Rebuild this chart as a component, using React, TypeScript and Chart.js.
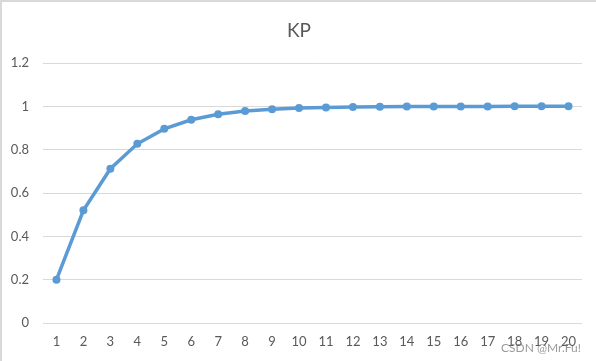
import React, { useEffect, useRef } from "react";
import { Chart, registerables } from "chart.js";

Chart.register(...registerables);

const categories = ["1","2","3","4","5","6","7","8","9","10","11","12","13","14","15","16","17","18","19","20"];
const kpValues = [0.2, 0.52, 0.712, 0.827, 0.896, 0.938, 0.963, 0.978, 0.987, 0.992, 0.995, 0.997, 0.998, 0.999, 0.9995, 0.9997, 0.9998, 0.9999, 0.9999, 1.0];
const titleText = "KP";
const watermarkText = "CSDN @Mr.Fu!";

const FONT = "Lato, 'Noto Sans', sans-serif";

const framePlugin = {
  id: "frame",
  beforeDraw(chart: any) {
    const { ctx, width, height } = chart;
    ctx.save();
    ctx.fillStyle = "#ffffff";
    ctx.fillRect(0, 0, width, height);
    ctx.fillStyle = "#d9d9d9";
    ctx.fillRect(0, 0, width, 2);
    ctx.fillRect(0, 0, 2, height);
    ctx.restore();
  },
  afterDraw(chart: any) {
    const { ctx } = chart;
    ctx.save();
    ctx.font = "19px " + FONT;
    ctx.fillStyle = "#595959";
    ctx.textAlign = "center";
    ctx.textBaseline = "middle";
    ctx.fillText(titleText, 299, 31);
    ctx.font = "12px " + FONT;
    ctx.fillStyle = "rgba(120,120,120,0.75)";
    ctx.textAlign = "right";
    ctx.fillText(watermarkText, 581, 348);
    ctx.restore();
  },
};

export default function App() {
  const ref = useRef<HTMLCanvasElement>(null);
  useEffect(() => {
    document.body.style.margin = "0";
    const chart = new Chart(ref.current!, {
      type: "line",
      data: {
        labels: categories,
        datasets: [
          {
            label: titleText,
            data: kpValues,
            borderColor: "#5b9bd5",
            backgroundColor: "#5b9bd5",
            borderWidth: 3.5,
            pointRadius: 4,
            pointBorderWidth: 0,
            pointBackgroundColor: "#5b9bd5",
            tension: 0,
          },
        ],
      },
      options: {
        responsive: false,
        animation: false,
        layout: { padding: { left: 0, right: 14, top: 63, bottom: 0 } },
        plugins: {
          legend: { display: false },
          tooltip: { enabled: false },
          title: { display: false },
        },
        scales: {
          x: {
            offset: true,
            grid: { display: false, drawTicks: false },
            border: { display: false },
            ticks: { color: "#595959", font: { family: FONT, size: 13 }, padding: 11, maxRotation: 0, autoSkip: false },
            afterFit(s: any) { s.height = 38; },
          },
          y: {
            min: 0,
            max: 1.2,
            ticks: {
              stepSize: 0.2,
              color: "#595959",
              font: { family: FONT, size: 13 },
              padding: 14,
              callback: (v: any) => String(Number(Number(v).toFixed(1))),
            },
            grid: { color: "#d9d9d9", lineWidth: 1, drawTicks: false },
            border: { display: false },
            afterFit(s: any) { s.width = 43; },
          },
        },
      },
      plugins: [framePlugin],
    } as any);
    return () => chart.destroy();
  }, []);
  return <canvas ref={ref} width={596} height={361} style={{ display: "block" }} />;
}
